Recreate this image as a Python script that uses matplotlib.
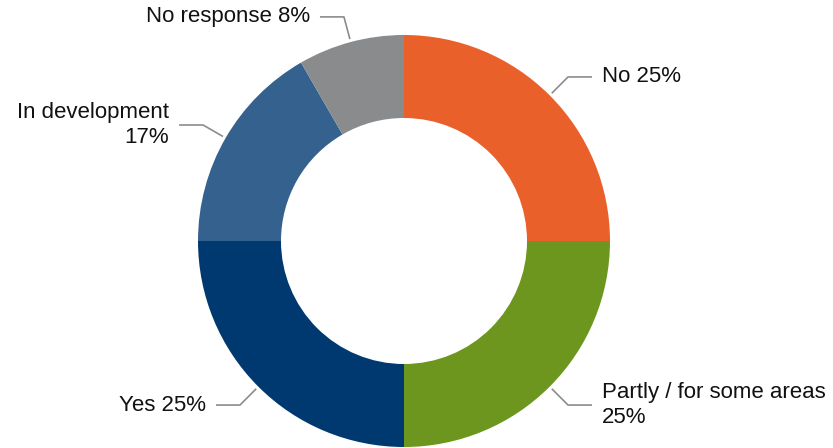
import numpy as np
import matplotlib.pyplot as plt

# Antwoorden (aantallen, 12 in totaal)
categories = ['No', 'Partly / for some areas', 'Yes', 'In development', 'No response']
label_texts = ['No {p}%', 'Partly / for some areas\n{p}%', 'Yes {p}%', 'In development\n{p}%', 'No response {p}%']
counts = [3, 3, 3, 2, 1]
colors = ['#E9602B', '#6D961F', '#00396F', '#35618E', '#8A8B8D']

W, H = 833, 448
cx, cy = 404, H - 241   # centrum in pixels (y omhoog)
R = 206
ring = 83

plt.rcParams['font.family'] = ['Liberation Sans', 'DejaVu Sans']

fig = plt.figure(figsize=(W / 100, H / 100), dpi=100)
ax = fig.add_axes([0, 0, 1, 1])

wedges, _ = ax.pie(counts, colors=colors, startangle=90, counterclock=False,
                   radius=R, center=(cx, cy),
                   wedgeprops=dict(width=ring, linewidth=0))
ax.set_xlim(0, W)
ax.set_ylim(0, H)
ax.set_aspect('equal')
ax.axis('off')

total = sum(counts)
for w, txt, n in zip(wedges, label_texts, counts):
    ang = np.deg2rad((w.theta1 + w.theta2) / 2)
    dx, dy = np.cos(ang), np.sin(ang)
    x0, y0 = cx + (R + 3) * dx, cy + (R + 3) * dy
    x1, y1 = cx + (R + 26) * dx, cy + (R + 26) * dy
    side = 1 if dx > 0 else -1
    x2 = x1 + side * 24
    ax.plot([x0, x1, x2], [y0, y1, y1], color='#8C8C8C', lw=1.2,
            solid_capstyle='butt')
    p = round(100 * n / total)
    ax.text(x2 + side * 10, y1, txt.format(p=p),
            ha='left' if side > 0 else 'right', va='center',
            fontsize=16, color='#111111', linespacing=1.2)

fig.savefig('out.png', dpi=100)
